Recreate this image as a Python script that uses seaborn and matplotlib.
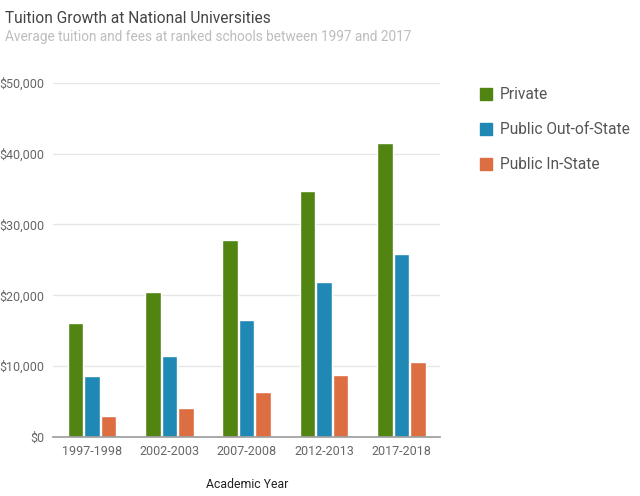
import pandas as pd
import seaborn as sns
import matplotlib.pyplot as plt
from matplotlib.ticker import FuncFormatter
from matplotlib.patches import Patch

# ---------- Data ----------
years = ["1997-1998", "2002-2003", "2007-2008", "2012-2013", "2017-2018"]
private = [16050, 20500, 27750, 34700, 41500]
public_out = [8650, 11450, 16500, 21900, 25800]
public_in = [3000, 4100, 6300, 8800, 10550]

series = ["Private", "Public Out-of-State", "Public In-State"]
colors = ["#528412", "#1f88b4", "#dc6e42"]

df = pd.DataFrame({"year": years, "Private": private,
                   "Public Out-of-State": public_out,
                   "Public In-State": public_in})
long = df.melt(id_vars="year", var_name="type", value_name="tuition")

sns.set_theme(style="white")
plt.rcParams["font.family"] = ["Roboto", "DejaVu Sans"]

fig = plt.figure(figsize=(6.4, 4.96), dpi=100)
ax = fig.add_axes([0.083, 0.119, 0.605, 0.714])

sns.barplot(data=long, x="year", y="tuition", hue="type", hue_order=series,
            palette=colors, width=0.64, gap=0.06, saturation=1,
            legend=False, ax=ax)

ax.set_ylim(0, 50000)
ax.set_yticks(range(0, 50001, 10000))
ax.yaxis.set_major_formatter(FuncFormatter(lambda v, p: f"${v:,.0f}"))
ax.grid(axis="y", color="#e6e6e6", linewidth=1)
ax.set_axisbelow(True)
for s in ["top", "right", "left"]:
    ax.spines[s].set_visible(False)
ax.spines["bottom"].set_color("#9e9e9e")
ax.tick_params(axis="both", length=0, labelsize=9, colors="#666666", pad=6)
ax.set_ylabel("")
ax.set_xlabel("Academic Year", fontsize=8.8, color="#222222", labelpad=14)

fig.text(0.008, 0.978, "Tuition Growth at National Universities",
         fontsize=11.2, color="#444444", va="top")
fig.text(0.008, 0.94, "Average tuition and fees at ranked schools between 1997 and 2017",
         fontsize=9.8, color="#bdbdbd", va="top")

handles = [Patch(facecolor=c, edgecolor=c) for c in colors]
fig.legend(handles, series, loc="upper left", bbox_to_anchor=(0.728, 0.852),
           frameon=False, fontsize=11.2, labelcolor="#555555",
           handlelength=0.75, handleheight=0.75, handletextpad=0.55,
           labelspacing=1.28)

fig.savefig("out.png", dpi=100)
